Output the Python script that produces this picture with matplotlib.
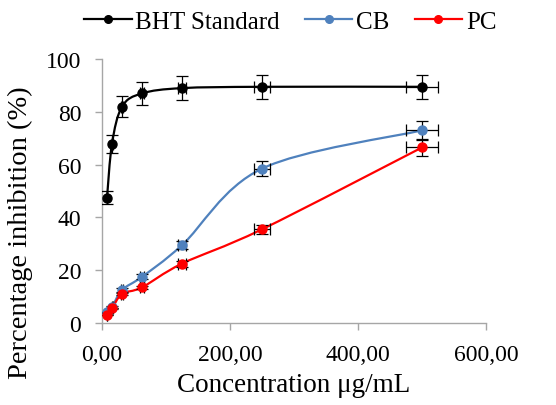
import numpy as np
import matplotlib
matplotlib.use('Agg')
import matplotlib.pyplot as plt
from matplotlib.path import Path
from matplotlib.patches import PathPatch
from matplotlib.lines import Line2D

#%% Data
conc = [7.8125, 15.625, 31.25, 62.5, 125, 250, 500]
bht = [47.5, 68.0, 82.0, 87.0, 89.0, 89.5, 89.5]
cb = [4.0, 6.0, 12.5, 17.5, 29.5, 58.5, 73.0]
pc = [3.0, 5.5, 11.0, 13.5, 22.5, 35.5, 66.5]
err_pct = 5.0

series = [('BHT Standard', bht, 'black'),
          ('CB', cb, '#4f81bd'),
          ('PC', pc, '#ff0000')]


#%% Smooth line like Excel (bezier through points)
def smooth_path(x, y, t=1/6):
    x = np.asarray(x, float)
    y = np.asarray(y, float)
    verts = [(x[0], y[0])]
    codes = [Path.MOVETO]
    n = len(x)
    for i in range(n - 1):
        p0 = i - 1 if i > 0 else i
        p3 = i + 2 if i + 2 < n else i + 1
        c1 = (x[i] + (x[i + 1] - x[p0]) * t, y[i] + (y[i + 1] - y[p0]) * t)
        c2 = (x[i + 1] - (x[p3] - x[i]) * t, y[i + 1] - (y[p3] - y[i]) * t)
        verts += [c1, c2, (x[i + 1], y[i + 1])]
        codes += [Path.CURVE4] * 3
    return Path(verts, codes)


#%% Plot
plt.rcParams['font.family'] = ['Liberation Serif', 'DejaVu Serif']
fig = plt.figure(figsize=(5.56, 4.06), dpi=100)
ax = fig.add_axes([0.1835, 0.202, 0.6905, 0.650])

handles = []
for name, vals, col in series:
    x = np.array(conc)
    y = np.array(vals)
    ax.add_patch(PathPatch(smooth_path(x, y), facecolor='none', edgecolor=col, lw=1.6, zorder=2))
    ax.errorbar(x, y, xerr=x * err_pct / 100, yerr=y * err_pct / 100, fmt='o', color=col,
                ms=6.5, ecolor='black', elinewidth=0.9, capsize=4.5, capthick=0.9, zorder=3)
    handles.append(Line2D([], [], color=col, lw=1.6, marker='o', ms=5.5))

ax.set_xlim(0, 600)
ax.set_ylim(0, 100)
ax.set_xticks([0, 200, 400, 600])
ax.set_xticklabels(['0,00', '200,00', '400,00', '600,00'])
ax.set_yticks([0, 20, 40, 60, 80, 100])
for s in ['top', 'right']:
    ax.spines[s].set_visible(False)
for s in ['left', 'bottom']:
    ax.spines[s].set_color('#a6a6a6')
    ax.spines[s].set_linewidth(1.0)
ax.tick_params(axis='both', colors='#a6a6a6', labelcolor='black', labelsize=17, length=5, width=1.0)
ax.tick_params(axis='x', pad=10)
ax.tick_params(axis='y', pad=10)
ax.set_xlabel('Concentration μg/mL', fontsize=19.5, labelpad=5)
ax.set_ylabel('Percentage inhibition (%)', fontsize=20.5)
ax.yaxis.set_label_coords(-0.18, 0.345)

fig.legend(handles, [s[0] for s in series], loc='center', bbox_to_anchor=(0.522, 0.945), ncol=3,
           frameon=False, fontsize=18, handlelength=1.9, handletextpad=0.15, columnspacing=1.0)

fig.savefig('out.png', dpi=100)
